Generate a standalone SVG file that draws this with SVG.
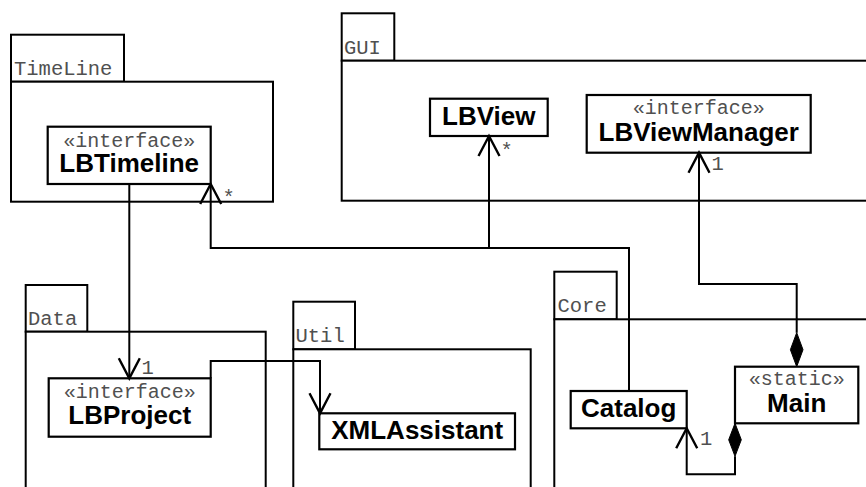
<svg xmlns="http://www.w3.org/2000/svg" width="866" height="487" viewBox="0 0 866 487">
  <defs>
    <style>
      .pkg { fill: #ffffff; stroke: #000000; stroke-width: 2; }
      .cls { fill: #ffffff; stroke: #000000; stroke-width: 2.2; }
      .mono { font-family: "Liberation Mono", "DejaVu Sans Mono", monospace; font-size: 20.5px; fill: #505050; }
      .name { font-family: "Liberation Sans", Arial, sans-serif; font-size: 26px; font-weight: bold; fill: #000000; text-anchor: middle; }
      .stereo { text-anchor: middle; font-size: 20px; }
      .edge { fill: none; stroke: #000000; stroke-width: 2; }
      .head { fill: none; stroke: #000000; stroke-width: 2.4; }
      .diamond { fill: #000000; stroke: #000000; stroke-width: 1; }
    </style>
  </defs>

  <!-- packages -->
  <g id="pkg-timeline">
    <rect class="pkg" x="11" y="34.7" width="113" height="47"/>
    <rect class="pkg" x="11" y="81.7" width="262" height="120"/>
    <text class="mono" x="14" y="75">TimeLine</text>
  </g>
  <g id="pkg-gui">
    <rect class="pkg" x="341.7" y="13.3" width="52.6" height="47.4"/>
    <rect class="pkg" x="341.7" y="60.7" width="540" height="140"/>
    <text class="mono" x="344" y="54">GUI</text>
  </g>
  <g id="pkg-data">
    <rect class="pkg" x="25.7" y="285" width="61.6" height="46.7"/>
    <rect class="pkg" x="25.7" y="331.7" width="240" height="170"/>
    <text class="mono" x="28" y="325">Data</text>
  </g>
  <g id="pkg-util">
    <rect class="pkg" x="293.3" y="301.7" width="61.7" height="47.6"/>
    <rect class="pkg" x="293.3" y="349.3" width="237.4" height="150"/>
    <text class="mono" x="295.5" y="341.5">Util</text>
  </g>
  <g id="pkg-core">
    <rect class="pkg" x="554.3" y="271.7" width="62.4" height="47.6"/>
    <rect class="pkg" x="554.3" y="319.3" width="330" height="180"/>
    <text class="mono" x="557.5" y="311.5">Core</text>
  </g>

  <!-- classes -->
  <g id="LBTimeline">
    <rect class="cls" x="47.7" y="126.7" width="163" height="57.3"/>
    <text class="mono stereo" x="129.2" y="146.5">«interface»</text>
    <text class="name" x="129.2" y="171.5">LBTimeline</text>
  </g>
  <g id="LBView">
    <rect class="cls" x="430" y="98.7" width="117.7" height="37.3"/>
    <text class="name" x="488.8" y="125">LBView</text>
  </g>
  <g id="LBViewManager">
    <rect class="cls" x="586.7" y="95" width="224" height="57.7"/>
    <text class="mono stereo" x="698.7" y="114">«interface»</text>
    <text class="name" x="698.7" y="141">LBViewManager</text>
  </g>
  <g id="LBProject">
    <rect class="cls" x="48.7" y="378.3" width="162" height="58.4"/>
    <text class="mono stereo" x="129.7" y="397.5">«interface»</text>
    <text class="name" x="129.7" y="423.5">LBProject</text>
  </g>
  <g id="XMLAssistant">
    <rect class="cls" x="319.3" y="413.3" width="195.7" height="36"/>
    <text class="name" x="417.2" y="439.3">XMLAssistant</text>
  </g>
  <g id="Catalog">
    <rect class="cls" x="570.7" y="391" width="116" height="37.3"/>
    <text class="name" x="628.7" y="416.5">Catalog</text>
  </g>
  <g id="Main">
    <rect class="cls" x="735" y="366.7" width="123.3" height="56.6"/>
    <text class="mono stereo" x="796.7" y="384.5">«static»</text>
    <text class="name" x="796.7" y="411.7">Main</text>
  </g>

  <!-- connectors -->
  <g id="connectors">
    <!-- LBTimeline to LBProject -->
    <path class="edge" d="M129.3,184 V378.3"/>
    <path class="head" d="M118.8,358.3 L129.3,378.3 L139.8,358.3"/>
    <text class="mono" x="141.5" y="374">1</text>

    <!-- LBProject to XMLAssistant -->
    <path class="edge" d="M210.7,378.3 V361 H320 V413.3"/>
    <path class="head" d="M309.5,393.3 L320,413.3 L330.5,393.3"/>

    <!-- Catalog to LBTimeline and LBView -->
    <path class="edge" d="M629,391 V248 H210.7 V184"/>
    <path class="edge" d="M489,248 V136"/>
    <path class="head" d="M200.2,204 L210.7,184 L221.2,204"/>
    <text class="mono" x="222.5" y="204">*</text>
    <path class="head" d="M478.5,156 L489,136 L499.5,156"/>
    <text class="mono" x="500.5" y="157">*</text>

    <!-- Main to LBViewManager -->
    <path class="edge" d="M796.7,332.7 V284 H699 V152.7"/>
    <path class="head" d="M688.5,172.7 L699,152.7 L709.5,172.7"/>
    <text class="mono" x="711.5" y="170">1</text>
    <polygon class="diamond" points="796.7,366.7 803,349.7 796.7,332.7 790.4,349.7"/>

    <!-- Main to Catalog -->
    <path class="edge" d="M735,456.3 V474.3 H686.7 V428.3"/>
    <polygon class="diamond" points="735,423.3 741.3,439.8 735,456.3 728.7,439.8"/>
    <path class="head" d="M676.2,448.3 L686.7,428.3 L697.2,448.3"/>
    <text class="mono" x="700" y="445">1</text>
  </g>
</svg>
